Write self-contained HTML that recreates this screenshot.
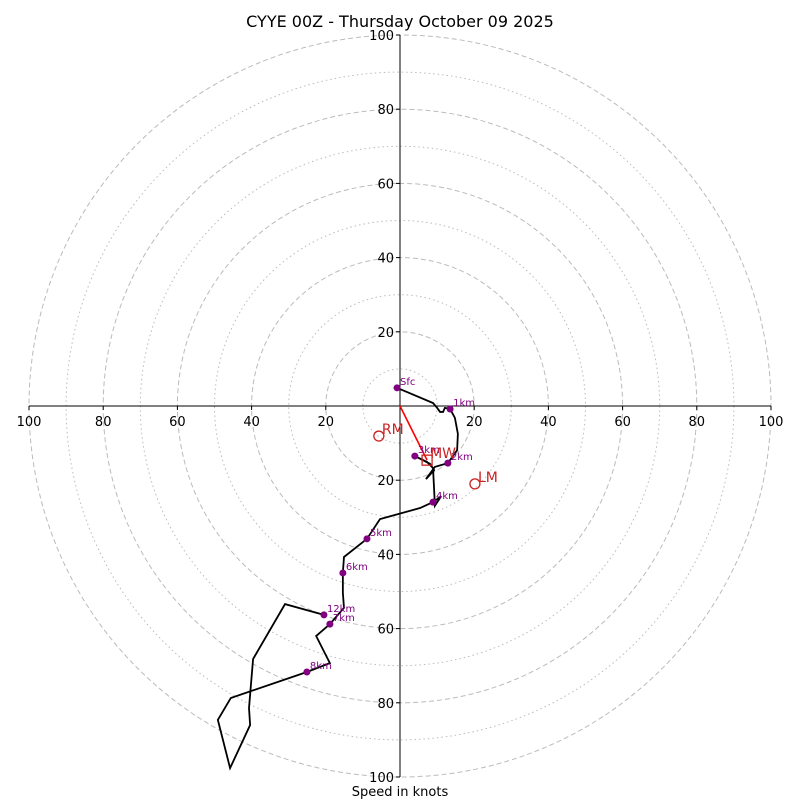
<!DOCTYPE html>
<html><head><meta charset="utf-8"><style>
body{margin:0;background:#fff}
svg text{font-family:"DejaVu Sans","Liberation Sans",sans-serif}
</style></head><body>
<svg id="chart" width="800" height="800" viewBox="0 0 800 800">
<text x="400" y="27" font-size="16" text-anchor="middle">CYYE 00Z - Thursday October 09 2025</text>
<text x="400" y="796" font-size="13" text-anchor="middle">Speed in knots</text>
<g id="grid"></g><g id="axes"></g><g id="series"></g>
</svg>
<script>
const uKt=[-0.8,8.9,10.0,10.8,11.6,12.1,13.5,14.8,15.6,15.4,12.9,9.4,7.0,9.2,8.1,4.0,7.3,8.9,9.2,9.4,11.1,8.9,5.4,-5.4,-8.9,-15.1,-15.4,-15.4,-15.1,-18.9,-22.6,-18.9,-25.1,-45.6,-49.1,-45.8,-40.4,-40.7,-39.6,-31.0,-20.5];
const vKt=[4.9,0.8,-0.5,-1.6,-1.6,-0.5,-0.8,-3.2,-7.5,-11.9,-15.4,-16.4,-19.7,-17.3,-15.6,-13.5,-15.1,-16.7,-22.6,-26.9,-24.3,-25.9,-27.5,-30.5,-35.8,-40.7,-45.0,-50.4,-54.4,-58.8,-62.0,-69.3,-71.7,-78.7,-84.6,-97.6,-86.0,-81.4,-68.2,-53.4,-56.3];
const heightLabels=["Sfc","","","","","","1km","","","","2km","","","","","3km","","","","","","4km","","","5km","","6km","","","7km","","","8km","","","","","","","","12km"];
const stormNames=["RM","LM","MW"];
const stormU=[-5.7,20.2,7.3];
const stormV=[-8.1,-21.0,-14.6];
const ticks=[20,40,60,80,100];
const cx=400,cy=406,k=3.71;
const X=u=>cx+u*k, Y=v=>cy-v*k;
const NS="http://www.w3.org/2000/svg";
function mk(tag,attrs,parent){const e=document.createElementNS(NS,tag);for(const a in attrs)e.setAttribute(a,attrs[a]);parent.appendChild(e);return e;}
const grid=document.getElementById('grid'),axes=document.getElementById('axes'),series=document.getElementById('series');
for(let r=10;r<=100;r+=10){
 const c=mk('circle',{cx:cx,cy:cy,r:r*k,fill:'none',stroke:'#bbb','stroke-width':1,'stroke-dasharray':r%20==0?'5,3':'1.5,3'},grid);
 
 
}
let l=mk('line',{x1:X(-100),y1:cy,x2:X(100),y2:cy,stroke:'#000','stroke-width':1},axes);


l=mk('line',{x1:cx,y1:Y(100),x2:cx,y2:Y(-100),stroke:'#000','stroke-width':1},axes);


ticks.forEach(t=>{
 [t,-t].forEach(s=>{
  mk('line',{x1:X(s),y1:cy,x2:X(s),y2:cy+4,stroke:'#000'},axes);
  let tx=mk('text',{x:X(s),y:cy+20,'font-size':13,'text-anchor':'middle'},axes);tx.textContent=t;
  
  
  mk('line',{x1:cx-4,y1:Y(s),x2:cx,y2:Y(s),stroke:'#000'},axes);
  let ty=mk('text',{x:cx-6,y:Y(s)+5,'font-size':13,'text-anchor':'end'},axes);ty.textContent=t;
  
  
 });
});
let pts=uKt.map((u,i)=>X(u)+','+Y(vKt[i])).join(' ');
let pl=mk('polyline',{points:pts,fill:'none',stroke:'#000','stroke-width':1.8,'stroke-linejoin':'miter'},series);


// red shear vector to MW
let rv=mk('line',{x1:cx,y1:cy,x2:X(stormU[2]),y2:Y(stormV[2]),stroke:'red','stroke-width':1.6},series);


heightLabels.forEach((lab,i)=>{
 if(!lab)return;
 let c=mk('circle',{cx:X(uKt[i]),cy:Y(vKt[i]),r:3.5,fill:'purple'},series);
 
 
 let t=mk('text',{x:X(uKt[i])+3,y:Y(vKt[i])-3,'font-size':10,fill:'purple'},series);t.textContent=lab;
 
 
});
stormNames.forEach((n,i)=>{
 const x=X(stormU[i]),y=Y(stormV[i]);
 let m;
 if(n==='MW') m=mk('rect',{x:x-5,y:y-5,width:10,height:10,fill:'none',stroke:'#c22','stroke-width':1.3},series);
 else m=mk('circle',{cx:x,cy:y,r:5,fill:'none',stroke:'#c22','stroke-width':1.3},series);
 
 
 let t=mk('text',{x:x+3,y:y-2,'font-size':14,fill:'#c22'},series);t.textContent=n;
 
 
});
</script>
</body></html>
